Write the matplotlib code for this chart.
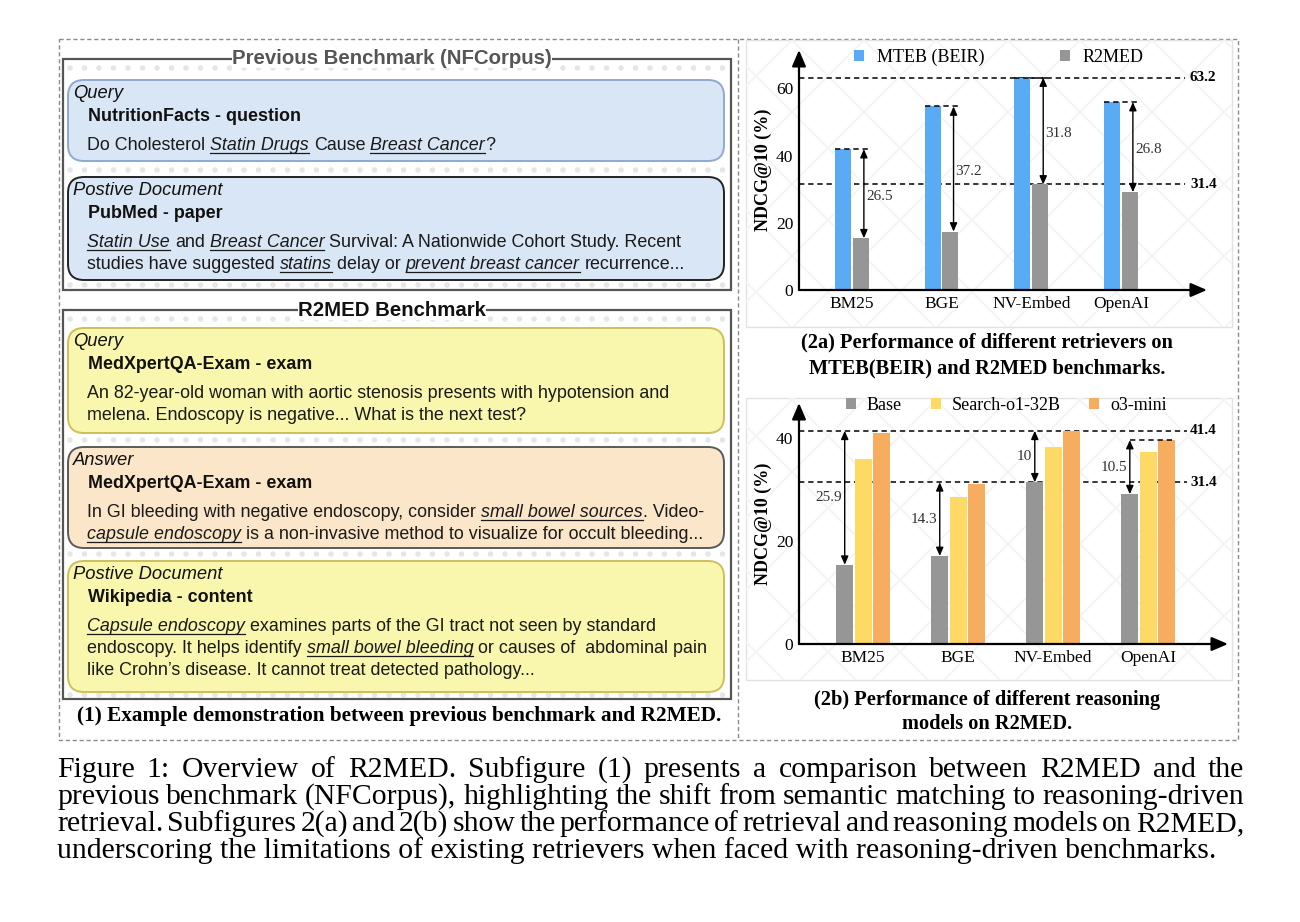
import matplotlib
matplotlib.use("Agg")
import matplotlib.pyplot as plt
from matplotlib.patches import FancyBboxPatch, Rectangle

# ---- chart data (2a) ----
retrievers = ["BM25", "BGE", "NV-Embed", "OpenAI"]
mteb_beir = [41.9, 54.6, 63.2, 55.9]
r2med = [15.4, 17.4, 31.4, 29.1]
gap_a = ["26.5", "37.2", "31.8", "26.8"]
ref_a = [63.2, 31.4]

# ---- chart data (2b) ----
base = [15.4, 17.1, 31.4, 29.1]
search_o1 = [35.9, 28.6, 38.3, 37.3]
o3_mini = [41.0, 31.1, 41.4, 39.6]
gap_top_b = [41.4, 31.4, 41.4, 39.6]
gap_b = ["25.9", "14.3", "10", "10.5"]
ref_b = [41.4, 31.4]

# ---- example boxes (left panel); _text_ = italic + underlined ----
box_labels = ["Query", "Postive Document", "Query", "Answer", "Postive Document"]
box_heads = ["NutritionFacts - question", "PubMed - paper", "MedXpertQA-Exam - exam",
             "MedXpertQA-Exam - exam", "Wikipedia - content"]
box_bodies = [
    ["Do Cholesterol _Statin Drugs_ Cause _Breast Cancer_?"],
    ["_Statin Use_ and _Breast Cancer_ Survival: A Nationwide Cohort Study. Recent",
     "studies have suggested _statins_ delay or _prevent breast cancer_ recurrence..."],
    ["An 82-year-old woman with aortic stenosis presents with hypotension and",
     "melena. Endoscopy is negative... What is the next test?"],
    ["In GI bleeding with negative endoscopy, consider _small bowel sources_. Video-",
     "_capsule endoscopy_ is a non-invasive method to visualize for occult bleeding..."],
    ["_Capsule endoscopy_ examines parts of the GI tract not seen by standard",
     "endoscopy. It helps identify _small bowel bleeding_ or causes of  abdominal pain",
     "like Crohn\u2019s disease. It cannot treat detected pathology..."],
]
box_spans = [(80, 161), (177, 280), (328, 433), (447, 548), (561, 692)]
box_fill = ["#d9e6f6", "#d9e6f6", "#f9f7ad", "#fbe6c9", "#f9f7ad"]
box_edge = ["#8fa9cf", "#222222", "#cdbf5a", "#5a5a5a", "#cdbf5a"]

caption_lines = [
    "Figure 1: Overview of R2MED. Subfigure (1) presents a comparison between R2MED and the",
    "previous benchmark (NFCorpus), highlighting the shift from semantic matching to reasoning-driven",
    "retrieval. Subfigures 2(a) and 2(b) show the performance of retrieval and reasoning models on R2MED,",
    "underscoring the limitations of existing retrievers when faced with reasoning-driven benchmarks.",
]

W, H = 1300, 922
SANS = "Liberation Sans"
SERIF = "Liberation Serif"
plt.rcParams["font.family"] = SERIF

fig = plt.figure(figsize=(W / 100, H / 100), dpi=100)
ax0 = fig.add_axes([0, 0, 1, 1])
ax0.set_xlim(0, W)
ax0.set_ylim(H, 0)
ax0.axis("off")
renderer = fig.canvas.get_renderer()


def text_width(s, **kw):
    t = ax0.text(0, 0, s, **kw)
    w = t.get_window_extent(renderer).width
    t.remove()
    return w


def fit_size(s, width, **kw):
    return 10 * width / text_width(s, fontsize=10, **kw)


def draw_runs(x, y, markup, size):
    space = text_width("x x", family=SANS, fontsize=size) - text_width("xx", family=SANS, fontsize=size)
    for k, part in enumerate(markup.split("_")):
        if not part:
            continue
        italic = k % 2 == 1
        lead = len(part) - len(part.lstrip(" "))
        trail = len(part) - len(part.rstrip(" "))
        x += lead * space
        core = part.strip(" ")
        t = ax0.text(x, y, core, family=SANS, fontsize=size, color="#1a1a1a",
                     style="italic" if italic else "normal", va="baseline", ha="left")
        w = t.get_window_extent(renderer).width
        if italic:
            ax0.plot([x, x + w], [y + size * 0.2, y + size * 0.2], color="#1a1a1a", lw=0.9)
        x += w + trail * space


def justify(x0, x1, y, line, size):
    words = line.split()
    ws = [text_width(w, fontsize=size, family=SERIF) for w in words]
    gap = (x1 - x0 - sum(ws)) / (len(words) - 1)
    x = x0
    for w, wd in zip(words, ws):
        ax0.text(x, y, w, fontsize=size, family=SERIF, va="baseline", ha="left")
        x += wd + gap


# ---- frames ----
ax0.add_patch(Rectangle((59, 39), 1179, 701, fill=False, ec="#8a8a8a", lw=1, ls=(0, (3, 2))))
ax0.plot([738, 738], [39, 740], color="#8a8a8a", lw=1, ls=(0, (3, 2)))

for top, bottom in [(40, 327), (398, 680)]:
    panel = Rectangle((746, top), 486, bottom - top, fc="white", ec="none")
    ax0.add_patch(panel)
    for c in range(-1400, 2600, 72):
        for sgn in (1, -1):
            ln, = ax0.plot([0, 1300], [c, c + sgn * 1300], color="#f4f4f4", lw=1.3)
            ln.set_clip_path(panel)
    ax0.add_patch(Rectangle((746, top), 486, bottom - top, fill=False, ec="#e2e2e2", lw=1))

# ---- left panel ----
body_size = fit_size("An 82-year-old woman with aortic stenosis presents with hypotension and", 585, family=SANS)
head_size = fit_size("NutritionFacts - question", 212, family=SANS, weight="bold")
label_size = fit_size("Postive Document", 150, family=SANS, style="italic")
title_size = fit_size("Previous Benchmark (NFCorpus)", 321, family=SANS, weight="bold")

for top, bottom, title, tcol in [(59, 290, "Previous Benchmark (NFCorpus)", "#555555"),
                                 (310, 699, "R2MED Benchmark", "#111111")]:
    ax0.add_patch(Rectangle((63, top), 668, bottom - top, fill=False, ec="#555555", lw=1.6))
    ax0.text(392, top, title, family=SANS, weight="bold", fontsize=title_size, color=tcol,
             ha="center", va="center", bbox=dict(fc="white", ec="none", pad=0))

for yy in [68, 170, 285, 319, 440, 554, 695]:
    ax0.plot([70, 726], [yy, yy], color="#e6e6e6", lw=4, ls=(0, (0.01, 2.6)),
             dash_capstyle="round", zorder=0.5)

for (top, bottom), lab, head, body, fc, ec in zip(box_spans, box_labels, box_heads,
                                                  box_bodies, box_fill, box_edge):
    ax0.add_patch(FancyBboxPatch((68, top), 656, bottom - top,
                                 boxstyle="round,pad=0,rounding_size=16",
                                 fc=fc, ec=ec, lw=1.4, zorder=1))
    ax0.text(73, top + 18, lab, family=SANS, style="italic", fontsize=label_size,
             va="baseline", ha="left", color="#111111")
    ax0.text(88, top + 41, head, family=SANS, weight="bold", fontsize=head_size,
             va="baseline", ha="left", color="#111111")
    for k, line in enumerate(body):
        draw_runs(87, top + 70 + 22 * k, line, body_size)

cap1 = "(1) Example demonstration between previous benchmark and R2MED."
ax0.text(399, 721, cap1, family=SERIF, weight="bold",
         fontsize=fit_size(cap1, 648, family=SERIF, weight="bold"), ha="center", va="baseline")

sub_size = fit_size("(2b) Performance of different reasoning", 348, family=SERIF, weight="bold")
for yy, s in [(347, "(2a) Performance of different retrievers on"),
              (373, "MTEB(BEIR) and R2MED benchmarks."),
              (705, "(2b) Performance of different reasoning"),
              (729, "models on R2MED.")]:
    ax0.text(987, yy, s, family=SERIF, weight="bold", fontsize=sub_size, ha="center", va="baseline")

# ---- figure caption ----
cap_size = fit_size(caption_lines[3], 1161, family=SERIF)
for k, line in enumerate(caption_lines[:3]):
    justify(57, 1244, 777 + 27 * k, line, cap_size)
ax0.text(57, 777 + 27 * 3, caption_lines[3], fontsize=cap_size, family=SERIF, va="baseline")


# ---- bar charts ----
def px_axes(left, top, right, bottom):
    ax = fig.add_axes([left / W, 1 - bottom / H, (right - left) / W, (bottom - top) / H])
    ax.patch.set_alpha(0)
    for sp in ax.spines.values():
        sp.set_visible(False)
    ax.tick_params(length=0, labelsize=12.5, pad=4)
    arrow = dict(arrowstyle="-|>,head_length=0.7,head_width=0.3", color="black", lw=1.6,
                 shrinkA=0, shrinkB=0, mutation_scale=14)
    ax.annotate("", xy=(0, 1), xytext=(0, 0), xycoords="axes fraction", arrowprops=arrow)
    ax.annotate("", xy=(1, 0), xytext=(0, 0), xycoords="axes fraction", arrowprops=arrow)
    ax.set_ylabel("NDCG@10 (%)", fontsize=13, weight="bold", labelpad=3)
    return ax


gap_arrow = dict(arrowstyle="<|-|>,head_length=0.5,head_width=0.22", color="black", lw=1,
                 shrinkA=0, shrinkB=0, mutation_scale=10)
dash = (0, (3.5, 2.5))

# (2a)
A = (799, 50, 1207, 290)
axa = px_axes(*A)
xa = list(range(len(retrievers)))
wa = 0.178
axa.set_xlim(-0.59, 3.96)
axa.set_ylim(0, 71.4)
axa.bar([i - wa / 2 - 0.01 for i in xa], mteb_beir, wa, color="#5aabf5", label="MTEB (BEIR)", zorder=2)
axa.bar([i + wa / 2 + 0.01 for i in xa], r2med, wa, color="#969696", label="R2MED", zorder=2)
fa = (1185 - A[0]) / (A[2] - A[0])
for r in ref_a:
    axa.axhline(r, 0, fa, color="black", lw=1.1, ls=dash, zorder=1)
    axa.text((1190 - A[0]) / (A[2] - A[0]), r, f"{r}", transform=axa.get_yaxis_transform(),
             fontsize=11, weight="bold", va="center", ha="left")
for i, top, bot, lab in zip(xa, mteb_beir, r2med, gap_a):
    ax_x = i + wa * 0.75
    axa.plot([i - wa - 0.01, ax_x + 0.07], [top, top], color="black", lw=1.1, ls=dash, zorder=3)
    axa.annotate("", xy=(ax_x, bot), xytext=(ax_x, top), arrowprops=gap_arrow, zorder=4)
    axa.annotate(lab, (ax_x, (top + bot) / 2), xytext=(1.5, -2), textcoords="offset points",
                 fontsize=11, color="#333333", ha="left", va="center")
axa.set_xticks(xa, retrievers)
axa.set_yticks([0, 20, 40, 60])
axa.legend(loc="center", bbox_to_anchor=(0.49, 0.97), ncol=2, frameon=False, fontsize=13,
           handlelength=0.55, handleheight=0.55, handletextpad=0.7, columnspacing=4.2)

# (2b)
B = (799, 403, 1228, 644)
axb = px_axes(*B)
xb = list(range(len(retrievers)))
wb, step = 0.179, 0.193
axb.set_xlim(-0.674, 3.84)
axb.set_ylim(0, 46.8)
axb.bar([i - step for i in xb], base, wb, color="#969696", label="Base", zorder=2)
axb.bar(xb, search_o1, wb, color="#ffd966", label="Search-o1-32B", zorder=2)
axb.bar([i + step for i in xb], o3_mini, wb, color="#f6ad60", label="o3-mini", zorder=2)
fb = (1187 - B[0]) / (B[2] - B[0])
for r in ref_b:
    axb.axhline(r, 0, fb, color="black", lw=1.1, ls=dash, zorder=1)
    axb.text((1190 - B[0]) / (B[2] - B[0]), r, f"{r}", transform=axb.get_yaxis_transform(),
             fontsize=11, weight="bold", va="center", ha="left")
axb.plot([xb[3] - step, xb[3] + step + wb / 2], [o3_mini[3], o3_mini[3]],
         color="black", lw=1.1, ls=dash, zorder=3)
for i, top, bot, lab in zip(xb, gap_top_b, base, gap_b):
    ax_x = i - step
    axb.annotate("", xy=(ax_x, bot), xytext=(ax_x, top), arrowprops=gap_arrow, zorder=4)
    axb.annotate(lab, (ax_x, (top + bot) / 2), xytext=(-2, 0), textcoords="offset points",
                 fontsize=11, color="#333333", ha="right", va="center")
axb.set_xticks(xb, retrievers)
axb.set_yticks([0, 20, 40])
axb.legend(loc="center", bbox_to_anchor=(0.483, 0.99), ncol=3, frameon=False, fontsize=13,
           handlelength=0.55, handleheight=0.55, handletextpad=0.6, columnspacing=1.6)

fig.savefig("out.png", dpi=100)
